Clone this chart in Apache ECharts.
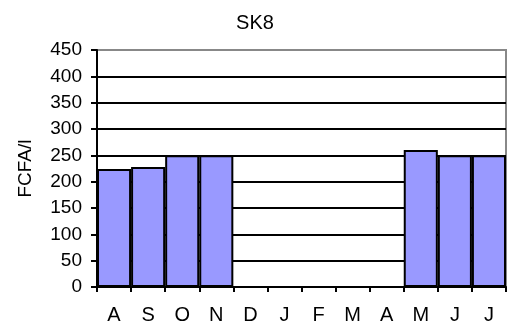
<!DOCTYPE html>
<html><head><meta charset="utf-8">
<script src="https://cdn.jsdelivr.net/npm/echarts@6/dist/echarts.min.js"></script>
<style>html,body{margin:0;padding:0;background:#fff}#c{width:508px;height:329px}</style>
</head><body><div id="c"></div>
<script>
var title = 'SK8';
var yName = 'FCFA/l';
var categories = ['A','S','O','N','D','J','F','M','A','M','J','J'];
var values = [224, 228, 250, 250, null, null, null, null, null, 260, 250, 250];
var yTicks = [0, 450, 50];
var chart = echarts.init(document.getElementById('c'));
var font = 'Liberation Sans, Arial, sans-serif';
chart.setOption({
  animation: false,
  title: {text: title, left: 250, top: 8, textAlign: 'center',
    textStyle: {fontFamily: font, fontSize: 20, fontWeight: 'normal', color: '#000'}},
  grid: {left: 97, right: 2, top: 50, bottom: 42, show: true, borderColor: '#888', borderWidth: 2},
  xAxis: {type: 'category', data: categories,
    axisLine: {lineStyle: {color: '#000', width: 2}},
    axisTick: {show: true, alignWithLabel: false, length: 5, lineStyle: {color: '#000', width: 2}},
    axisLabel: {fontFamily: font, fontSize: 20, color: '#000', margin: 18, interval: 0},
    splitLine: {show: false}},
  yAxis: {type: 'value', min: yTicks[0], max: yTicks[1], interval: yTicks[2],
    name: yName, nameLocation: 'middle', nameGap: 62, nameRotate: 90,
    nameTextStyle: {fontFamily: font, fontSize: 19, color: '#000'},
    axisLine: {show: true, lineStyle: {color: '#000', width: 2}},
    axisTick: {show: true, length: 6, lineStyle: {color: '#000', width: 2}},
    axisLabel: {fontFamily: font, fontSize: 19, color: '#000', margin: 15},
    splitLine: {show: true, lineStyle: {color: ['#000','#000','#000','#000','#000','#000','#000','#000','#000','#888'], width: 2}}},
  series: [{type: 'bar', data: values, barCategoryGap: '0%',
    itemStyle: {color: '#9999FF', borderColor: '#000', borderWidth: 2}}]
});
</script></body></html>
